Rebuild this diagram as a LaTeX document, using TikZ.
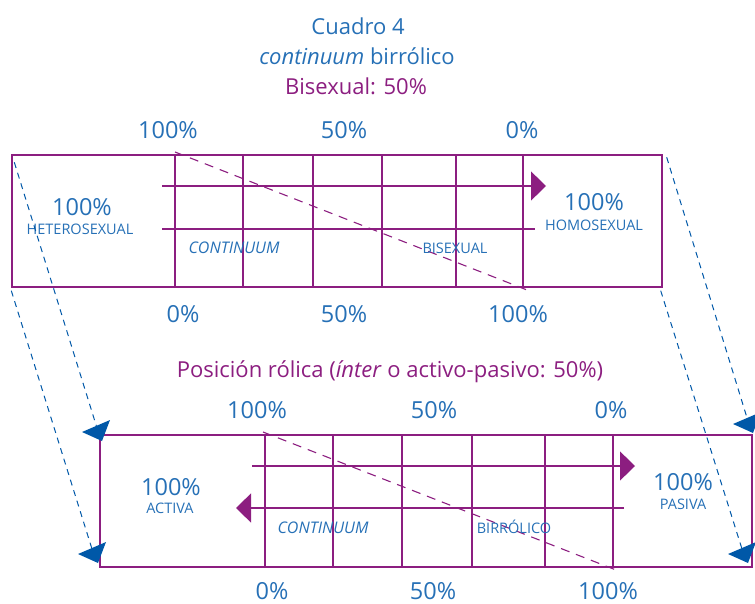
\documentclass[tikz,border=0pt]{standalone}
\usepackage{fontspec}
\setmainfont{Open Sans}
\usepackage{tikz}
\usetikzlibrary{positioning, arrows.meta}
\definecolor{rolpurple}{RGB}{140,30,128}
\definecolor{rolblue}{RGB}{38,112,182}
\definecolor{tipblue}{RGB}{0,88,168}

\begin{document}
\begin{tikzpicture}[x=1pt, y=-1pt,
rolbox/.style={rectangle, draw=rolpurple, line width=1.4pt, inner sep=0pt},
gridline/.style={draw=rolpurple, line width=1.1pt},
scale arrow/.style={gridline, -{Triangle[length=15pt, width=29pt]}},
diag/.style={draw=rolpurple, line width=1.1pt, dash pattern=on 9pt off 7pt},
link/.style={draw=tipblue, line width=1pt, dash pattern=on 6pt off 5pt},
bluetip/.pic={\fill[tipblue] (-18,-3) -- (10,-15) -- (2,6) -- cycle;},
big/.style={anchor=base, inner sep=0pt, text=rolblue, font=\fontsize{23.5}{27}\selectfont},
lbl/.style={anchor=base, inner sep=0pt, text=rolblue, font=\fontsize{14.5}{17}\selectfont},
slanted lbl/.style={lbl, font=\fontsize{16}{19}\selectfont\itshape},
title/.style={anchor=base, inner sep=0pt, font=\fontsize{22}{26}\selectfont}]
    \useasboundingbox (0,0) rectangle (755,604);

    % titles
    \node[title, text=rolblue] (cuadro) at (358,35) {Cuadro 4};
    \node[title, text=rolblue] (birrol) at (357,65) {\textit{continuum} birrólico};
    \node[title, text=rolpurple] (bisex) at (356,95) {Bisexual: 50\%};
    \node[title, text=rolpurple] (posicion) at (390,377) {Posición rólica (\textit{ínter} o activo-pasivo: 50\%)};

    % upper box
    \node[rolbox, minimum width=650pt, minimum height=132pt] (bis) at (337,221) {};
    \foreach \x in {175,243,313,382,456,523}
        \draw[gridline] (\x,155) -- (\x,287);
    \draw[scale arrow] (162,186) -- (546,186);
    \draw[gridline] (162,229) -- (535,229);
    \draw[diag] (175,152) -- (527,290);

    \node[big] (p1) at (168,139) {100\%};
    \node[big] (p2) at (344,139) {50\%};
    \node[big] (p3) at (522,139) {0\%};
    \node[big] (q1) at (183,322) {0\%};
    \node[big] (q2) at (344,322) {50\%};
    \node[big] (q3) at (518,322) {100\%};

    \node[big] (hetp) at (82,215) {100\%};
    \node[lbl] (het) at (80,235) {HETEROSEXUAL};
    \node[big] (homp) at (594,211) {100\%};
    \node[lbl] (hom) at (594,231) {HOMOSEXUAL};
    \node[slanted lbl] (cont1) at (234,254) {CONTINUUM};
    \node[lbl] (bisx) at (455,254) {BISEXUAL};

    % lower box
    \node[rolbox, minimum width=652pt, minimum height=132pt] (rol) at (426,501) {};
    \foreach \x in {265,333,402,472,545,613}
        \draw[gridline] (\x,435) -- (\x,567);
    \draw[scale arrow] (252,466) -- (635,466);
    \draw[scale arrow] (624,508) -- (236,508);
    \draw[diag] (263,432) -- (616,570);

    \node[big] (r1) at (257,418) {100\%};
    \node[big] (r2) at (434,418) {50\%};
    \node[big] (r3) at (611,418) {0\%};
    \node[big] (s1) at (272,599) {0\%};
    \node[big] (s2) at (433,599) {50\%};
    \node[big] (s3) at (608,599) {100\%};

    \node[big] (actp) at (171,495) {100\%};
    \node[lbl] (act) at (170,513) {ACTIVA};
    \node[big] (pasp) at (683,490) {100\%};
    \node[lbl] (pas) at (683,509) {PASIVA};
    \node[slanted lbl] (cont2) at (323,533) {CONTINUUM};
    \node[lbl] (birr) at (514,533) {BIRRÓLICO};

    % links between the boxes
    \coordinate (tipA) at (97,428);
    \coordinate (tipB) at (92,549);
    \coordinate (tipC) at (748,421);
    \coordinate (tipD) at (742,549);
    \draw[link] ([shift={(3,8)}]bis.north west) -- (tipA);
    \draw[link] ([shift={(0,3)}]bis.south west) -- (tipB);
    \draw[link] ([shift={(4,3)}]bis.north east) -- (tipC);
    \draw[link] ([shift={(-2,3)}]bis.south east) -- (tipD);
    \pic at (100,435) {bluetip};
    \pic at (96,557) {bluetip};
    \pic at (751,427) {bluetip};
    \pic at (746,557) {bluetip};
\end{tikzpicture}
\end{document}
